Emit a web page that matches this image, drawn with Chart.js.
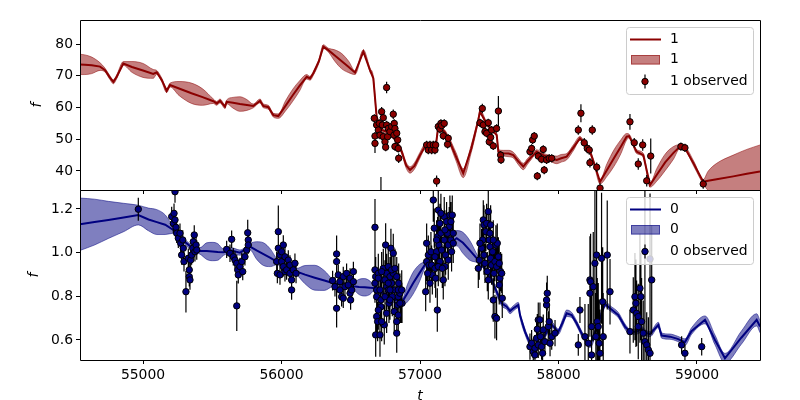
<!DOCTYPE html>
<html>
<head>
<meta charset="utf-8">
<script src="https://cdn.jsdelivr.net/npm/chart.js@4"></script>
<style>
html, body { margin: 0; padding: 0; background: #fff; overflow: hidden; }
#wrap { position: relative; width: 800px; height: 400px; }
#c1 { position: absolute; left: 0; top: 0; z-index: 2; }
#c2 { position: absolute; left: 0; top: 190px; z-index: 1; }
</style>
</head>
<body>
<div id="wrap">
  <canvas id="c1" width="800" height="194" style="width:800px;height:194px"></canvas>
  <canvas id="c2" width="800" height="210" style="width:800px;height:210px"></canvas>
</div>
<script>
// axes
const xTicks = [55000, 56000, 57000, 58000, 59000];
const yTicks1 = [40, 50, 60, 70, 80];
const yTicks0 = [0.6, 0.8, 1.0, 1.2];

// series "1" (top panel) - model mean / uncertainty
const modT1 = [54545,54580,54630,54690,54726,54760,54786,54810,54858,54920,
  55000,55074,55099,55135,55171,55195,55260,55350,55430,55508,
  55532,55556,55592,55604,55650,55700,55750,55796,55845,55869,
  55905,55941,55977,56030,56080,56130,56182,56206,56230,56270,
  56302,56338,56385,56435,56485,56531,56591,56639,56663,56687,
  56720,56780,56820,56868,56900,56928,56960,57000,57036,57108,
  57113,57132,57144,57175,57204,57260,57312,57370,57421,57433,
  57480,57530,57554,57566,57602,57640,57674,57710,57746,57776,
  57806,57842,57890,57940,57987,58020,58059,58110,58155,58179,
  58228,58260,58300,58350,58400,58450,58492,58510,58564,58612,
  58661,58710,58770,58830,58877,58913,58980,59045,59080,59142,
  59262,59360,59455];
const modF1 = [73.6,73.5,73.3,72.9,71.8,69.5,68.1,69.7,73.9,72.8,
  71.7,70.6,71.1,68.7,65.3,67.1,66.0,64.5,63.3,62.0,
  61.3,62.1,60.3,61.8,61.5,61.1,60.8,60.5,62.1,60.5,
  60.1,57.6,57.3,60.6,63.8,66.8,69.7,69.2,70.8,74.6,
  79.2,78.1,76.4,74.6,72.8,71.0,77.6,71.8,69.2,57.1,
  53.0,52.0,50.0,46.1,41.8,40.3,41.6,45.0,47.7,48.2,
  47.6,54.0,53.2,52.5,50.3,44.5,39.3,47.0,56.1,58.7,
  55.0,52.5,51.3,46.1,45.6,45.5,45.0,43.0,41.4,43.0,
  44.5,46.1,45.0,44.0,43.5,44.0,44.5,47.5,50.3,49.2,
  46.1,42.0,36.6,40.3,44.0,47.6,50.8,51.0,46.1,45.0,
  35.6,38.8,42.7,45.7,47.7,47.2,42.0,36.6,36.9,37.4,
  38.3,39.1,39.8];
const modE1 = [3.2,3.1,2.6,1.2,0.6,0.6,0.6,0.6,0.6,1.7,
  2.2,1.4,0.6,0.6,0.6,0.6,2.2,3.2,2.6,0.7,
  0.6,0.6,0.6,0.6,1.7,2.3,1.7,0.6,0.6,0.6,
  0.6,0.6,0.7,1.6,1.9,1.6,0.7,0.6,0.6,0.6,
  0.6,0.6,1.8,2.4,1.8,0.6,0.6,0.6,0.6,0.6,
  0.6,0.6,0.6,0.7,0.9,1.0,1.0,0.9,0.7,0.6,
  0.6,0.6,0.6,0.6,0.8,1.3,1.4,1.2,0.7,0.6,
  0.6,0.6,0.6,0.6,0.9,1.0,0.9,1.0,1.0,0.9,
  0.7,0.6,0.6,0.9,1.2,1.2,1.0,0.9,0.6,0.6,
  0.6,0.6,0.7,2.0,2.6,2.2,1.0,0.6,0.6,0.6,
  0.7,2.0,2.6,2.0,0.6,0.6,0.8,0.7,3.0,5.0,
  6.7,7.7,8.4];

// series "1" observed
const obsT1 = [56670,56675,56675,56687,56699,56706,56711,56723,56728,56735,
  56735,56747,56752,56759,56759,56766,56771,56783,56795,56807,
  56812,56814,56819,56819,56832,56839,56843,56846,56718,57048,
  57060,57072,57084,57096,57108,57113,57120,57132,57144,57151,
  57156,57168,57175,57199,57204,57433,57450,57457,57469,57481,
  57493,57500,57510,57517,57529,57553,57566,57582,57585,57794,
  57806,57813,57825,57847,57854,57878,57890,57897,57914,57933,
  57951,58143,58162,58186,58208,58222,58227,58244,58276,58300,
  58516,58547,58576,58608,58637,58666,58884,58913,59045];
const obsF1 = [56.6,51.0,48.7,54.5,52.9,55.0,51.3,58.7,54.5,56.8,
  50.8,49.2,47.5,54.5,66.3,50.8,53.4,52.4,54.0,57.9,
  51.3,55.0,53.4,47.7,51.9,49.8,47.1,44.0,32.0,48.2,
  46.6,48.2,46.6,48.2,46.6,48.2,36.8,54.0,53.2,55.0,
  54.3,51.1,55.0,48.4,50.3,55.2,59.7,54.5,52.4,51.9,
  55.2,49.2,50.6,52.9,47.9,53.4,58.9,45.0,43.5,46.1,
  47.1,49.8,51.0,38.4,44.7,43.7,46.8,40.3,43.5,44.0,
  44.0,52.9,58.2,48.9,47.1,46.6,42.6,52.9,41.2,34.6,
  55.5,48.9,42.2,48.2,36.9,44.7,47.7,47.3,35.9];
const obsE1 = [1.3,1.3,3.0,1.3,1.3,1.3,1.3,1.5,1.3,1.3,
  1.3,1.3,1.3,1.3,1.8,1.3,1.3,1.3,1.3,1.5,
  1.3,1.3,1.3,1.3,1.3,1.3,1.3,1.5,6.1,1.3,
  1.3,1.3,1.3,1.3,1.3,1.3,1.8,1.3,1.3,1.3,
  1.3,1.3,1.3,1.3,1.3,1.3,1.5,1.3,1.3,1.3,
  1.3,1.3,1.3,1.3,1.3,1.3,4.7,1.3,1.3,1.3,
  1.3,1.3,1.3,1.3,1.3,1.3,1.3,1.3,1.3,1.3,
  1.3,1.5,2.8,1.5,1.5,1.5,1.5,1.5,1.5,1.5,
  2.5,1.5,1.8,1.8,1.8,5.5,1.3,1.3,1.5];

// series "0" (bottom panel) - model mean / uncertainty
const modT0 = [54545,54650,54750,54860,54966,55040,55100,55160,55219,55300,
  55370,55412,55460,55500,55540,55580,55640,55700,55773,55820,
  55870,55920,55965,56040,56110,56170,56240,56310,56374,56450,
  56518,56560,56600,56640,56663,56770,56868,56910,56950,56995,
  57036,57130,57216,57265,57310,57360,57421,57500,57590,57626,
  57650,57674,57710,57722,57758,57794,57830,57880,57926,57951,
  57999,58030,58059,58095,58131,58179,58227,58290,58336,58372,
  58432,58480,58516,58564,58600,58630,58661,58721,58745,58805,
  58860,58913,58960,59058,59130,59202,59320,59431,59455];
const modF0 = [1.130,1.140,1.150,1.161,1.172,1.152,1.140,1.128,1.104,1.050,
  1.015,1.008,1.007,1.005,1.003,1.002,1.010,1.000,1.027,1.010,
  0.993,0.976,0.959,0.935,0.913,0.899,0.885,0.872,0.860,0.852,
  0.846,0.843,0.841,0.839,0.838,0.800,0.770,0.815,0.860,0.905,
  0.945,1.000,1.043,1.066,1.045,1.010,0.966,0.900,0.768,0.752,
  0.732,0.745,0.760,0.714,0.638,0.585,0.560,0.600,0.646,0.669,
  0.638,0.680,0.722,0.714,0.676,0.615,0.577,0.680,0.765,0.745,
  0.714,0.661,0.638,0.638,0.650,0.632,0.627,0.669,0.620,0.615,
  0.605,0.590,0.640,0.692,0.600,0.516,0.610,0.692,0.661];
const modE0 = [0.120,0.105,0.085,0.065,0.045,0.052,0.057,0.045,0.015,0.012,
  0.012,0.015,0.038,0.042,0.038,0.015,0.012,0.012,0.015,0.040,
  0.052,0.040,0.015,0.012,0.015,0.042,0.057,0.045,0.015,0.012,
  0.015,0.035,0.040,0.030,0.015,0.012,0.015,0.040,0.050,0.040,
  0.015,0.012,0.015,0.035,0.048,0.045,0.015,0.012,0.012,0.012,
  0.012,0.012,0.012,0.012,0.012,0.012,0.012,0.012,0.012,0.012,
  0.012,0.015,0.015,0.012,0.012,0.012,0.012,0.012,0.012,0.012,
  0.012,0.012,0.012,0.012,0.012,0.012,0.012,0.012,0.012,0.012,
  0.012,0.015,0.015,0.018,0.022,0.022,0.030,0.028,0.028];

// series "0" observed
const obsT0 = [54966,55207,55219,55224,55231,55231,55238,55243,55255,55267,
  55272,55279,55287,55291,55296,55310,55327,55334,55334,55339,
  55344,55351,55359,55363,55370,55375,55383,55388,55604,55628,
  55640,55652,55664,55677,55677,55684,55688,55700,55713,55720,
  55736,55749,55756,55760,55760,55965,55970,55977,55977,55989,
  55989,56001,56001,56013,56013,56025,56025,56037,56049,56061,
  56061,56073,56073,56085,56097,56105,56369,56386,56398,56398,
  56398,56410,56422,56422,56434,56446,56446,56458,56470,56482,
  56495,56495,56499,56507,56519,56519,56675,56675,56680,56675,
  56687,56687,56687,56694,56680,56711,56699,56711,56718,56718,
  56735,56735,56742,56747,56752,56759,56759,56771,56771,56776,
  56783,56790,56795,56800,56807,56807,56814,56819,56832,56832,
  56839,56843,56843,56846,56855,56862,56870,57041,57048,57048,
  57060,57065,57079,57084,57089,57096,57103,57108,57113,57120,
  57125,57127,57132,57137,57144,57144,57151,57156,57168,57175,
  57175,57180,57185,57192,57199,57204,57211,57216,57223,57228,
  57233,57240,57421,57428,57445,57453,57457,57462,57462,57476,
  57481,57486,57493,57493,57500,57505,57510,57510,57517,57524,
  57529,57534,57541,57541,57548,57553,57558,57566,57572,57577,
  57582,57594,57794,57806,57818,57830,57830,57842,57847,57854,
  57854,57866,57870,57878,57885,57890,57902,57914,57914,57919,
  57926,57933,57939,57951,57975,58143,58155,58191,58215,58227,
  58227,58232,58239,58239,58251,58263,58270,58275,58280,58287,
  58294,58299,58311,58319,58323,58352,58372,58516,58540,58552,
  58559,58564,58576,58576,58588,58595,58600,58612,58624,58624,
  58637,58649,58661,58673,58661,58889,58913,59034,
  56699,56723,56747,56771,56783,56795,56819,56832,56843,56855,
  56868,56783,56759,56699,56723,57055,57072,57108,57132,57161,
  57180,57204,57223,57240,57151,57120,57433,57469,57505,57529,
  57553,57572,57590];
const obsF0 = [1.199,1.165,1.134,1.180,1.279,1.150,1.116,1.089,1.066,1.089,
  1.043,0.989,1.058,1.020,0.959,0.821,0.974,0.921,0.890,0.875,
  0.966,0.989,1.020,1.050,1.081,1.004,1.035,1.012,1.015,0.997,
  1.061,0.981,0.966,0.951,0.756,0.921,0.898,0.936,0.959,0.913,
  0.981,1.012,1.091,1.058,1.035,0.959,0.905,1.096,1.020,0.989,
  0.898,1.004,0.959,1.035,0.936,0.981,0.913,0.921,0.966,0.943,
  0.905,0.875,0.829,0.921,0.951,0.905,0.872,0.844,0.994,0.959,
  0.745,0.898,0.829,0.867,0.798,0.890,0.791,0.844,0.905,0.852,
  0.883,0.814,0.783,0.829,0.913,0.867,1.116,0.921,0.890,0.860,
  0.829,0.798,0.707,0.684,0.623,0.623,0.905,0.829,0.783,0.752,
  0.928,0.875,0.669,0.798,1.035,0.844,0.905,0.936,0.829,0.768,
  0.890,1.020,0.860,0.798,0.997,0.905,0.730,0.829,0.631,0.684,
  0.760,0.798,0.714,0.860,0.814,0.768,0.768,0.821,1.043,0.959,
  0.989,0.943,1.004,0.943,0.898,1.241,1.112,0.928,0.883,1.004,
  0.737,1.073,1.195,1.035,1.134,0.959,1.089,1.012,0.875,1.165,
  1.058,0.936,0.989,1.142,1.089,1.035,1.119,1.172,1.058,1.004,
  1.172,1.089,0.928,0.966,1.020,1.058,1.150,0.989,1.127,1.096,
  1.134,0.913,0.875,1.188,1.058,1.027,0.974,1.127,0.943,1.004,
  0.783,0.905,0.959,0.707,1.035,0.699,1.043,0.981,0.852,0.883,
  0.913,0.791,0.569,0.585,0.546,0.562,0.531,0.608,0.649,0.577,
  0.692,0.692,0.615,0.569,0.539,0.646,0.592,0.760,0.783,0.814,
  0.661,0.684,0.585,0.615,0.631,0.577,0.737,0.615,0.585,0.814,
  0.875,0.867,0.661,0.531,0.844,0.951,0.615,0.989,0.684,0.661,
  0.585,0.539,0.974,0.775,0.615,0.989,0.821,0.638,0.737,0.798,
  0.768,0.722,0.707,0.661,0.837,0.798,0.684,0.631,1.004,0.592,
  0.577,0.554,0.971,0.875,0.539,0.577,0.539,0.569,
  0.883,0.913,0.875,0.860,0.829,0.921,0.928,0.890,0.829,0.768,
  0.829,0.783,0.722,0.737,0.684,0.905,0.860,0.981,0.936,0.928,
  1.104,0.966,1.142,1.043,1.180,1.058,1.043,0.951,1.089,1.058,
  0.936,0.951,0.905];
const obsE0 = [0.053,0.045,0.045,0.045,0.05,0.045,0.045,0.045,0.045,0.045,
  0.045,0.045,0.045,0.045,0.045,0.095,0.045,0.045,0.045,0.045,
  0.045,0.045,0.045,0.045,0.045,0.045,0.045,0.045,0.04,0.04,
  0.04,0.04,0.04,0.04,0.115,0.04,0.04,0.04,0.04,0.04,
  0.04,0.04,0.06,0.04,0.04,0.045,0.045,0.12,0.045,0.045,
  0.045,0.045,0.045,0.045,0.045,0.045,0.045,0.045,0.045,0.045,
  0.045,0.045,0.045,0.045,0.045,0.045,0.045,0.045,0.084,0.045,
  0.088,0.045,0.045,0.045,0.045,0.045,0.045,0.045,0.045,0.045,
  0.045,0.045,0.045,0.045,0.045,0.045,0.13,0.09,0.09,0.09,
  0.09,0.09,0.09,0.09,0.10,0.10,0.09,0.09,0.09,0.09,
  0.09,0.09,0.09,0.09,0.10,0.09,0.09,0.09,0.09,0.09,
  0.09,0.09,0.09,0.09,0.09,0.09,0.09,0.09,0.09,0.09,
  0.09,0.09,0.09,0.09,0.09,0.09,0.09,0.09,0.09,0.09,
  0.09,0.09,0.09,0.09,0.09,0.10,0.09,0.09,0.09,0.09,
  0.10,0.09,0.10,0.09,0.09,0.09,0.09,0.09,0.09,0.09,
  0.09,0.09,0.09,0.09,0.09,0.09,0.09,0.09,0.09,0.09,
  0.09,0.09,0.09,0.09,0.09,0.09,0.09,0.09,0.09,0.09,
  0.09,0.09,0.09,0.10,0.09,0.09,0.09,0.09,0.09,0.09,
  0.10,0.09,0.09,0.10,0.09,0.10,0.09,0.09,0.09,0.09,
  0.09,0.09,0.06,0.06,0.06,0.06,0.06,0.07,0.07,0.06,
  0.08,0.08,0.07,0.06,0.06,0.07,0.06,0.08,0.08,0.08,
  0.07,0.07,0.06,0.06,0.06,0.05,0.06,0.15,0.18,0.20,
  0.20,0.22,0.20,0.20,0.25,0.35,0.20,0.35,0.20,0.20,
  0.20,0.20,0.30,0.25,0.20,0.25,0.15,0.10,0.15,0.20,
  0.20,0.15,0.15,0.15,0.25,0.20,0.20,0.15,0.30,0.15,
  0.15,0.15,0.30,0.25,0.15,0.04,0.04,0.04,
  0.09,0.09,0.09,0.09,0.09,0.09,0.09,0.09,0.09,0.09,
  0.09,0.09,0.09,0.09,0.09,0.09,0.09,0.09,0.09,0.09,
  0.09,0.09,0.09,0.09,0.09,0.09,0.09,0.09,0.09,0.09,
  0.09,0.09,0.09];

Chart.defaults.font.family = 'DejaVu Sans';
Chart.defaults.font.size = 13.9;
Chart.defaults.color = '#000';

function pts(xs, ys) {
  return xs.map((x, i) => ({ x: x, y: ys[i] }));
}

// vertical error bars under the markers
const errorBars = {
  id: 'errorBars',
  beforeDatasetDraw(chart, args) {
    const ds = chart.data.datasets[args.index];
    if (!ds.errs) return;
    const ctx = chart.ctx, a = chart.chartArea;
    const xs = chart.scales.x, ys = chart.scales.y;
    ctx.save();
    ctx.beginPath();
    ctx.rect(a.left, a.top, a.right - a.left, a.bottom - a.top);
    ctx.clip();
    ctx.strokeStyle = '#000';
    ctx.lineWidth = 1.2;
    ctx.beginPath();
    ds.data.forEach((p, i) => {
      const px = xs.getPixelForValue(p.x);
      ctx.moveTo(px, ys.getPixelForValue(p.y - ds.errs[i]));
      ctx.lineTo(px, ys.getPixelForValue(p.y + ds.errs[i]));
    });
    ctx.stroke();
    ctx.restore();
  }
};

// full box around each axes
const frame = {
  id: 'frame',
  afterDraw(chart) {
    const a = chart.chartArea, ctx = chart.ctx;
    ctx.save();
    ctx.strokeStyle = '#000';
    ctx.lineWidth = 1;
    ctx.beginPath();
    ctx.moveTo(a.left + 0.5, a.top + 0.5);
    ctx.lineTo(a.right + 0.5, a.top + 0.5);
    ctx.lineTo(a.right + 0.5, a.bottom + 0.5);
    ctx.lineTo(a.left + 0.5, a.bottom + 0.5);
    ctx.closePath();
    ctx.stroke();
    ctx.restore();
  }
};

function roundBox(ctx, x, y, w, h, r) {
  ctx.beginPath();
  ctx.moveTo(x + r, y);
  ctx.arcTo(x + w, y, x + w, y + h, r);
  ctx.arcTo(x + w, y + h, x, y + h, r);
  ctx.arcTo(x, y + h, x, y, r);
  ctx.arcTo(x, y, x + w, y, r);
  ctx.closePath();
}

// matplotlib-like legend in the upper right corner
const panelLegend = {
  id: 'panelLegend',
  afterDraw(chart, args, o) {
    const a = chart.chartArea, ctx = chart.ctx;
    const bx = a.right - 134, by = a.top + 7;
    ctx.save();
    roundBox(ctx, bx + 0.5, by + 0.5, 127, 67, 3);
    ctx.fillStyle = 'rgba(255,255,255,0.8)';
    ctx.fill();
    ctx.strokeStyle = '#cccccc';
    ctx.lineWidth = 1;
    ctx.stroke();

    ctx.strokeStyle = o.color;
    ctx.lineWidth = 2;
    ctx.beginPath();
    ctx.moveTo(bx + 4, by + 12.5);
    ctx.lineTo(bx + 35, by + 12.5);
    ctx.stroke();

    ctx.fillStyle = o.band;
    ctx.fillRect(bx + 5, by + 28, 29, 9.5);
    ctx.strokeStyle = o.band;
    ctx.lineWidth = 1;
    ctx.strokeRect(bx + 5.5, by + 28.5, 28, 8.5);

    const my = by + 54.5;
    ctx.strokeStyle = '#000';
    ctx.lineWidth = 1.2;
    ctx.beginPath();
    ctx.moveTo(bx + 19, my - 7);
    ctx.lineTo(bx + 19, my + 7);
    ctx.stroke();
    ctx.beginPath();
    ctx.arc(bx + 19, my, 3.2, 0, 2 * Math.PI);
    ctx.fillStyle = o.color;
    ctx.fill();
    ctx.lineWidth = 1;
    ctx.stroke();

    ctx.fillStyle = '#000';
    ctx.font = '13.9px "DejaVu Sans"';
    ctx.textAlign = 'left';
    ctx.textBaseline = 'middle';
    ctx.fillText(o.name, bx + 44, by + 12.5);
    ctx.fillText(o.name, bx + 44, by + 32.5);
    ctx.fillText(o.name + ' observed', bx + 44, by + 54.5);
    ctx.restore();
  }
};

// keep the plot box exactly where the layout padding puts it
function noPad(s) {
  s.paddingTop = 0; s.paddingBottom = 0; s.paddingLeft = 0; s.paddingRight = 0;
}

function panel(id, o) {
  const hi = o.mf.map((v, i) => v + o.me[i]);
  const lo = o.mf.map((v, i) => v - o.me[i]);
  return new Chart(document.getElementById(id), {
    type: 'line',
    data: {
      datasets: [
        { label: o.name + ' observed', data: pts(o.ot, o.of), errs: o.oe, showLine: false,
          pointRadius: 3.2, pointBackgroundColor: o.color, pointBorderColor: '#000',
          pointBorderWidth: 1, clip: 0 },
        { label: o.name, data: pts(o.mt, o.mf), borderColor: o.color, borderWidth: 2,
          pointRadius: 0, tension: 0, clip: 0 },
        { label: o.name, data: pts(o.mt, hi), borderColor: o.band, backgroundColor: o.band,
          borderWidth: 1, pointRadius: 0, fill: '+1', cubicInterpolationMode: 'monotone', clip: 0 },
        { label: '', data: pts(o.mt, lo), borderColor: o.band, borderWidth: 1,
          pointRadius: 0, fill: false, cubicInterpolationMode: 'monotone', clip: 0 }
      ]
    },
    options: {
      responsive: false,
      animation: false,
      devicePixelRatio: 1,
      events: [],
      layout: { autoPadding: false, padding: { top: o.padTop, right: 40, left: 0, bottom: 0 } },
      plugins: {
        legend: { display: false },
        tooltip: { enabled: false },
        panelLegend: { name: o.name, color: o.color, band: o.band }
      },
      scales: {
        x: {
          type: 'linear', min: 54545, max: 59455,
          afterBuildTicks: s => { s.ticks = xTicks.map(v => ({ value: v })); },
          afterFit: s => { s.height = o.xHeight; noPad(s); },
          grid: { drawOnChartArea: false, drawTicks: true, tickLength: 4, color: '#000' },
          border: { display: false },
          ticks: { display: o.showX, maxRotation: 0, padding: 3, callback: v => String(v) },
          title: { display: o.showX, text: 't', font: { style: 'italic' }, padding: { top: 0, bottom: -5 } }
        },
        y: {
          type: 'linear', min: o.ymin, max: o.ymax,
          afterBuildTicks: s => { s.ticks = o.yt.map(v => ({ value: v })); },
          afterFit: s => { s.width = 80; noPad(s); },
          grid: { drawOnChartArea: false, drawTicks: true, tickLength: 4, color: '#000' },
          border: { display: false },
          ticks: { padding: 3, callback: o.fmt },
          title: { display: true, text: 'f', font: { style: 'italic' }, padding: { top: o.titlePad, bottom: 0 } }
        }
      }
    },
    plugins: [errorBars, frame, panelLegend]
  });
}

panel('c1', {
  name: '1', color: '#8b0000', band: 'rgba(139,0,0,0.5)',
  mt: modT1, mf: modF1, me: modE1, ot: obsT1, of: obsF1, oe: obsE1,
  ymin: 34.0, ymax: 87.6, yt: yTicks1, fmt: v => String(v),
  padTop: 20, xHeight: 4, showX: false, titlePad: 28.7
});

panel('c2', {
  name: '0', color: '#000080', band: 'rgba(0,0,128,0.5)',
  mt: modT0, mf: modF0, me: modE0, ot: obsT0, of: obsF0, oe: obsE0,
  ymin: 0.508, ymax: 1.287, yt: yTicks0, fmt: v => v.toFixed(1),
  padTop: 0, xHeight: 40, showX: true, titlePad: 25.7
});
</script>
</body>
</html>
